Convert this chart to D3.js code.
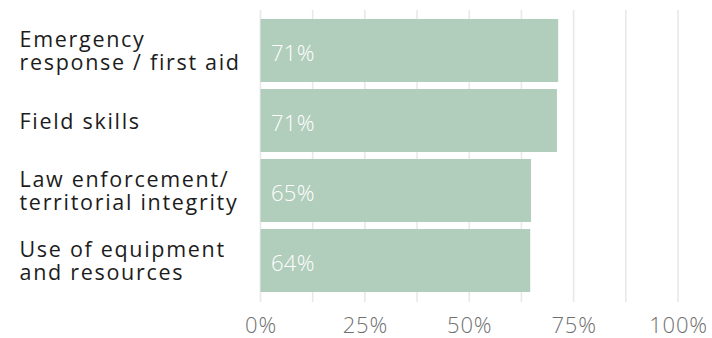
<!DOCTYPE html>
<html>
<head>
<meta charset="utf-8">
<script src="https://cdn.jsdelivr.net/npm/d3@7"></script>
<style>
  html, body { margin: 0; padding: 0; background: #ffffff; }
  svg { display: block; }
</style>
</head>
<body>
<svg id="chart" width="712" height="338"></svg>
<script>
// ---- data ----
const categories = [
  "Emergency\nresponse / first aid",
  "Field skills",
  "Law enforcement/\nterritorial integrity",
  "Use of equipment\nand resources"
];
const values = [71.3, 71.0, 64.8, 64.6];
const valueLabels = ["71%", "71%", "65%", "64%"];
const gridValues = [0, 12.5, 25, 37.5, 50, 62.5, 75, 87.5, 100];
const tickValues = [0, 25, 50, 75, 100];
const tickLabels = ["0%", "25%", "50%", "75%", "100%"];

// ---- layout ----
const svg = d3.select("#chart");
const font = "'Open Sans', 'DejaVu Sans', sans-serif";

const x = d3.scaleLinear().domain([0, 100]).range([260.5, 678]);
const y = d3.scaleBand().domain(d3.range(categories.length))
  .range([15.5, 295.5]).paddingInner(0.1).paddingOuter(0.05);

// gridlines
svg.append("g").selectAll("line").data(gridValues).join("line")
  .attr("x1", d => x(d)).attr("x2", d => x(d))
  .attr("y1", 10).attr("y2", 302)
  .attr("stroke", "#e8e8e8").attr("stroke-width", 1.6);

// bars
svg.append("g").selectAll("rect").data(values).join("rect")
  .attr("x", x(0))
  .attr("y", (d, i) => y(i))
  .attr("width", d => x(d) - x(0))
  .attr("height", y.bandwidth())
  .attr("fill", "#b1cdbb");

// value labels
svg.append("g").selectAll("text").data(valueLabels).join("text")
  .attr("x", x(0) + 10.5)
  .attr("y", (d, i) => y(i) + y.bandwidth() / 2 + 10.5)
  .attr("font-family", font).attr("font-weight", 300)
  .attr("font-size", 22).attr("letter-spacing", 0.3)
  .attr("fill", "#ffffff")
  .text(d => d);

// category labels
const cat = svg.append("g").selectAll("text").data(categories).join("text")
  .attr("font-family", font).attr("font-size", 21.5)
  .attr("letter-spacing", 1.7)
  .attr("fill", "#1c1c1c");
cat.each(function(d, i) {
  const lines = d.split("\n");
  const cy = y(i) + y.bandwidth() / 2;
  const lh = 22.5;
  const first = cy - (lines.length - 1) * lh / 2 + 8;
  d3.select(this).selectAll("tspan").data(lines).join("tspan")
    .attr("x", 19.5)
    .attr("y", (l, j) => first + j * lh)
    .text(l => l);
});

// x axis tick labels
const axis = d3.axisBottom(x).tickValues(tickValues)
  .tickFormat((d, i) => tickLabels[i]).tickSize(0).tickPadding(0);
const ax = svg.append("g").attr("transform", "translate(0,318)").call(axis);
ax.select(".domain").remove();
ax.selectAll("text")
  .attr("dy", null).attr("y", 15)
  .attr("font-family", font).attr("font-weight", 300)
  .attr("font-size", 22).attr("letter-spacing", 0.8)
  .attr("fill", "#707070");
</script>
</body>
</html>
